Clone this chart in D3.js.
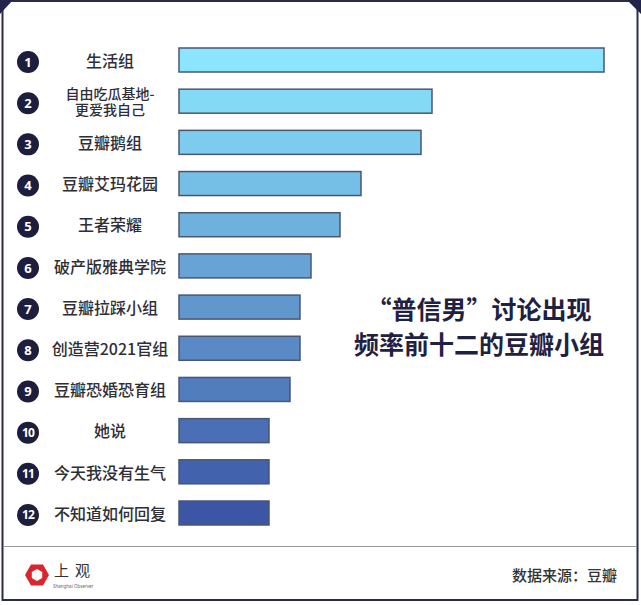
<!DOCTYPE html>
<html>
<head>
<meta charset="utf-8">
<script src="https://cdn.jsdelivr.net/npm/d3@7"></script>
<style>
  html, body { margin: 0; padding: 0; background: #fff; }
  svg { display: block; }
</style>
</head>
<body>
<div id="chart"></div>
<script>
const ranks = ["1","2","3","4","5","6","7","8","9","10","11","12"];
const categories = ["生活组","自由吃瓜基地-\n更爱我自己","豆瓣鹅组","豆瓣艾玛花园","王者荣耀","破产版雅典学院","豆瓣拉踩小组","创造营2021官组","豆瓣恐婚恐育组","她说","今天我没有生气","不知道如何回复"];
const values = [425, 253, 242, 182, 161, 132, 121, 121, 111, 90, 90, 90];
const titleLines = ["“普信男”讨论出现", "频率前十二的豆瓣小组"];
const sourceText = "数据来源：豆瓣";
const logoText = "上观";
const logoSub = "Shanghai Observer";

const W = 641, H = 605;
const font = "'Noto Sans CJK SC', 'Noto Sans', sans-serif";
const svg = d3.select("#chart").append("svg").attr("width", W).attr("height", H);

// frame
svg.append("rect").attr("x", 0).attr("y", 0).attr("width", W).attr("height", H).attr("fill", "#fff");
svg.append("rect").attr("x", 2.5).attr("y", 1).attr("width", 635).attr("height", 599)
  .attr("fill", "#fff").attr("stroke", "#2b2c48").attr("stroke-width", 2);
svg.append("path").attr("d", "M0,0 L13,0 L0,14 Z").attr("fill", "#23244a");
svg.append("path").attr("d", `M${W},0 L${W-14},0 L${W},14 Z`).attr("fill", "#23244a");
svg.append("line").attr("x1", 3).attr("x2", 637).attr("y1", 546.5).attr("y2", 546.5)
  .attr("stroke", "#9a9aa2").attr("stroke-width", 1.2);

// scales
const x = d3.scaleLinear().domain([0, d3.max(values)]).range([179, 604]);
const y = d3.scalePoint().domain(categories).range([60, 513]);
const color = d3.scaleLinear().domain([0, categories.length - 1])
  .range(["#8be6fd", "#3c55a5"]).interpolate(d3.interpolateRgb);
const barH = 24;

const g = svg.append("g");
g.selectAll("rect.bar").data(categories).join("rect")
  .attr("class", "bar")
  .attr("x", x(0))
  .attr("y", d => y(d) - barH / 2)
  .attr("width", (d, i) => x(values[i]) - x(0))
  .attr("height", barH)
  .attr("fill", (d, i) => color(i))
  .attr("stroke", "#4b5672")
  .attr("stroke-width", 1.5);

// rank circles
g.selectAll("circle.rank").data(categories).join("circle")
  .attr("cx", 28).attr("cy", d => y(d) + 2).attr("r", 11)
  .attr("fill", "#1d1d3d");
g.selectAll("text.rank").data(categories).join("text")
  .attr("x", 28).attr("y", d => y(d) + 2)
  .attr("dy", "0.36em")
  .attr("text-anchor", "middle")
  .attr("font-family", "'Open Sans', 'Noto Sans', sans-serif")
  .attr("font-weight", 700)
  .attr("font-size", (d, i) => ranks[i].length > 1 ? 12 : 13)
  .attr("letter-spacing", (d, i) => ranks[i].length > 1 ? -0.8 : 0)
  .attr("fill", "#fff")
  .text((d, i) => ranks[i]);

// category labels
categories.forEach((c, i) => {
  const lines = c.split("\n");
  const fs = lines.length > 1 ? 14 : 16;
  const lh = 16;
  const t = g.append("text")
    .attr("text-anchor", "middle")
    .attr("font-family", font)
    .attr("font-weight", 500)
    .attr("font-size", fs)
    .attr("fill", "#2e2e36");
  lines.forEach((ln, j) => {
    t.append("tspan").attr("x", 110)
      .attr("y", y(c) + 1 + (j - (lines.length - 1) / 2) * lh)
      .attr("dy", "0.36em")
      .text(ln);
  });
});

// title
svg.append("g").selectAll("text").data(titleLines).join("text")
  .attr("x", 479).attr("y", (d, i) => 310 + i * 35)
  .attr("dy", "0.36em")
  .attr("text-anchor", "middle")
  .attr("font-family", font)
  .attr("font-weight", 700)
  .attr("font-size", 25)
  .attr("fill", "#1f2142")
  .text(d => d);

// footer source
svg.append("text").attr("x", 617).attr("y", 576).attr("dy", "0.36em")
  .attr("text-anchor", "end")
  .attr("font-family", font).attr("font-weight", 500)
  .attr("font-size", 15).attr("fill", "#333")
  .text(sourceText);

// logo
const hex = (cx, cy, r, rot) => d3.range(6).map(k => {
  const a = rot + k * Math.PI / 3;
  return [cx + r * Math.cos(a), cy + r * Math.sin(a)];
});
const outer = hex(37, 575, 12, 0);
const inner = hex(37, 575, 6, Math.PI / 6);
svg.append("path")
  .attr("d", "M" + outer.join("L") + "Z M" + inner.reverse().join("L") + "Z")
  .attr("fill", "#d8262c").attr("fill-rule", "evenodd");
svg.append("text").attr("x", 54).attr("y", 571).attr("dy", "0.36em")
  .attr("font-family", "'Noto Sans CJK SC', sans-serif").attr("font-size", 15)
  .attr("letter-spacing", 6).attr("fill", "#333").text(logoText);
svg.append("text").attr("x", 53).attr("y", 588)
  .attr("font-family", "'Noto Sans', sans-serif").attr("font-size", 4.5)
  .attr("fill", "#666").text(logoSub);
</script>
</body>
</html>
